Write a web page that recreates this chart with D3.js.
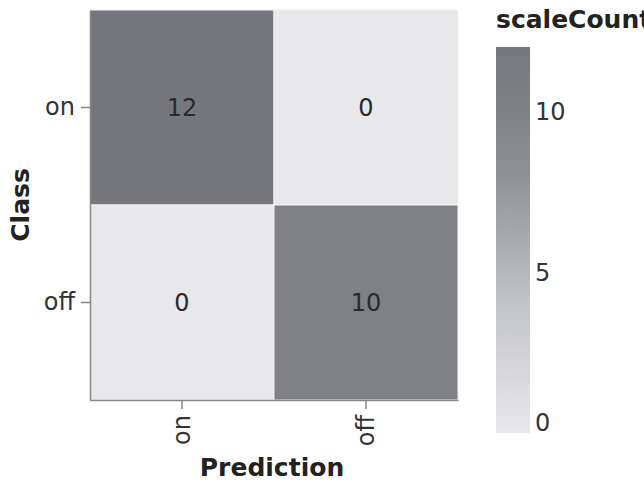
<!DOCTYPE html>
<html><head><meta charset="utf-8">
<script src="https://cdn.jsdelivr.net/npm/d3@7"></script>
<style>body{margin:0;background:#fff}svg{display:block}text{font-family:"DejaVu Sans",Verdana,sans-serif}</style>
</head><body><svg id="c" width="644" height="482"></svg>
<script>
const classes = ["on", "off"];
const predictions = ["on", "off"];
const counts = [[12, 0], [0, 10]]; // rows: Class, cols: Prediction
const legendTicks = [0, 5, 10];
const countMax = 12;

const svg = d3.select("#c");
const FS = 25;
const m = {l: 90, t: 10, r: 458, b: 400};
const x = d3.scaleBand().domain(predictions).range([m.l, m.r]);
const y = d3.scaleBand().domain(classes).range([m.t, m.b]);
const color = d3.scaleLinear()
  .domain([0, countMax / 3, countMax * 2 / 3, countMax * 5 / 6, countMax])
  .range(["#e8e8ea", "#c4c5c8", "#909195", "#808185", "#76777c"]);

const cells = [];
classes.forEach((c, i) => predictions.forEach((p, j) => cells.push({c, p, v: counts[i][j]})));

svg.append("g").selectAll("rect").data(cells).join("rect")
  .attr("x", d => x(d.p)).attr("y", d => y(d.c))
  .attr("width", x.bandwidth()).attr("height", y.bandwidth())
  .attr("fill", d => color(d.v))
  .attr("stroke", "#f2f2f2").attr("stroke-width", 1);

svg.append("g").selectAll("text").data(cells).join("text")
  .attr("x", d => x(d.p) + x.bandwidth() / 2)
  .attr("y", d => y(d.c) + y.bandwidth() / 2)
  .attr("dy", "0.35em").attr("text-anchor", "middle")
  .attr("font-size", FS - 1).attr("fill", "#2a2a2a")
  .text(d => d.v);

// axes
const xa = svg.append("g").attr("transform", `translate(0,${m.b})`)
  .call(d3.axisBottom(x).tickSize(9).tickSizeOuter(0));
xa.selectAll(".tick text")
  .attr("transform", "rotate(-90)")
  .attr("x", -15).attr("y", 0).attr("dy", "0.35em")
  .attr("text-anchor", "end");
const ya = svg.append("g").attr("transform", `translate(${m.l},0)`)
  .call(d3.axisLeft(y).tickSize(9).tickSizeOuter(0).tickPadding(6));
[xa, ya].forEach(a => {
  a.select(".domain").attr("stroke", "#888").attr("stroke-width", 1.5);
  a.selectAll(".tick line").attr("stroke", "#888").attr("stroke-width", 1.5);
  a.selectAll(".tick text").attr("font-size", FS - 1).attr("fill", "#333")
    .style("font-family", '"DejaVu Sans",Verdana,sans-serif');
});

svg.append("text").attr("x", (m.l + m.r) / 2 - 2).attr("y", 476)
  .attr("text-anchor", "middle").attr("font-size", FS).attr("font-weight", "bold")
  .attr("fill", "#222").text("Prediction");
svg.append("text").attr("transform", `translate(29,${(m.t + m.b) / 2}) rotate(-90)`)
  .attr("text-anchor", "middle").attr("font-size", FS).attr("font-weight", "bold")
  .attr("fill", "#222").text("Class");

// legend
const lg = {x: 496, y0: 47, y1: 433, w: 34};
const ly = d3.scaleLinear().domain([0, countMax]).range([lg.y1, lg.y0]);
const defs = svg.append("defs");
const grad = defs.append("linearGradient").attr("id", "g").attr("x1", 0).attr("y1", 1).attr("x2", 0).attr("y2", 0);
color.domain().forEach(v => grad.append("stop").attr("offset", v / countMax).attr("stop-color", color(v)));
svg.append("rect").attr("x", lg.x).attr("y", lg.y0).attr("width", lg.w).attr("height", lg.y1 - lg.y0)
  .attr("fill", "url(#g)");
svg.append("g").selectAll("text").data(legendTicks).join("text")
  .attr("x", lg.x + lg.w + 5)
  .attr("y", d => d === 0 ? ly(d) - 2 : ly(d))
  .attr("dy", d => d === 0 ? "0" : "0.35em")
  .attr("font-size", FS - 1).attr("fill", "#333").text(d => d);
svg.append("text").attr("x", lg.x).attr("y", 28).attr("font-size", FS).attr("font-weight", "bold")
  .attr("fill", "#222").text("scaleCount");
</script></body></html>
